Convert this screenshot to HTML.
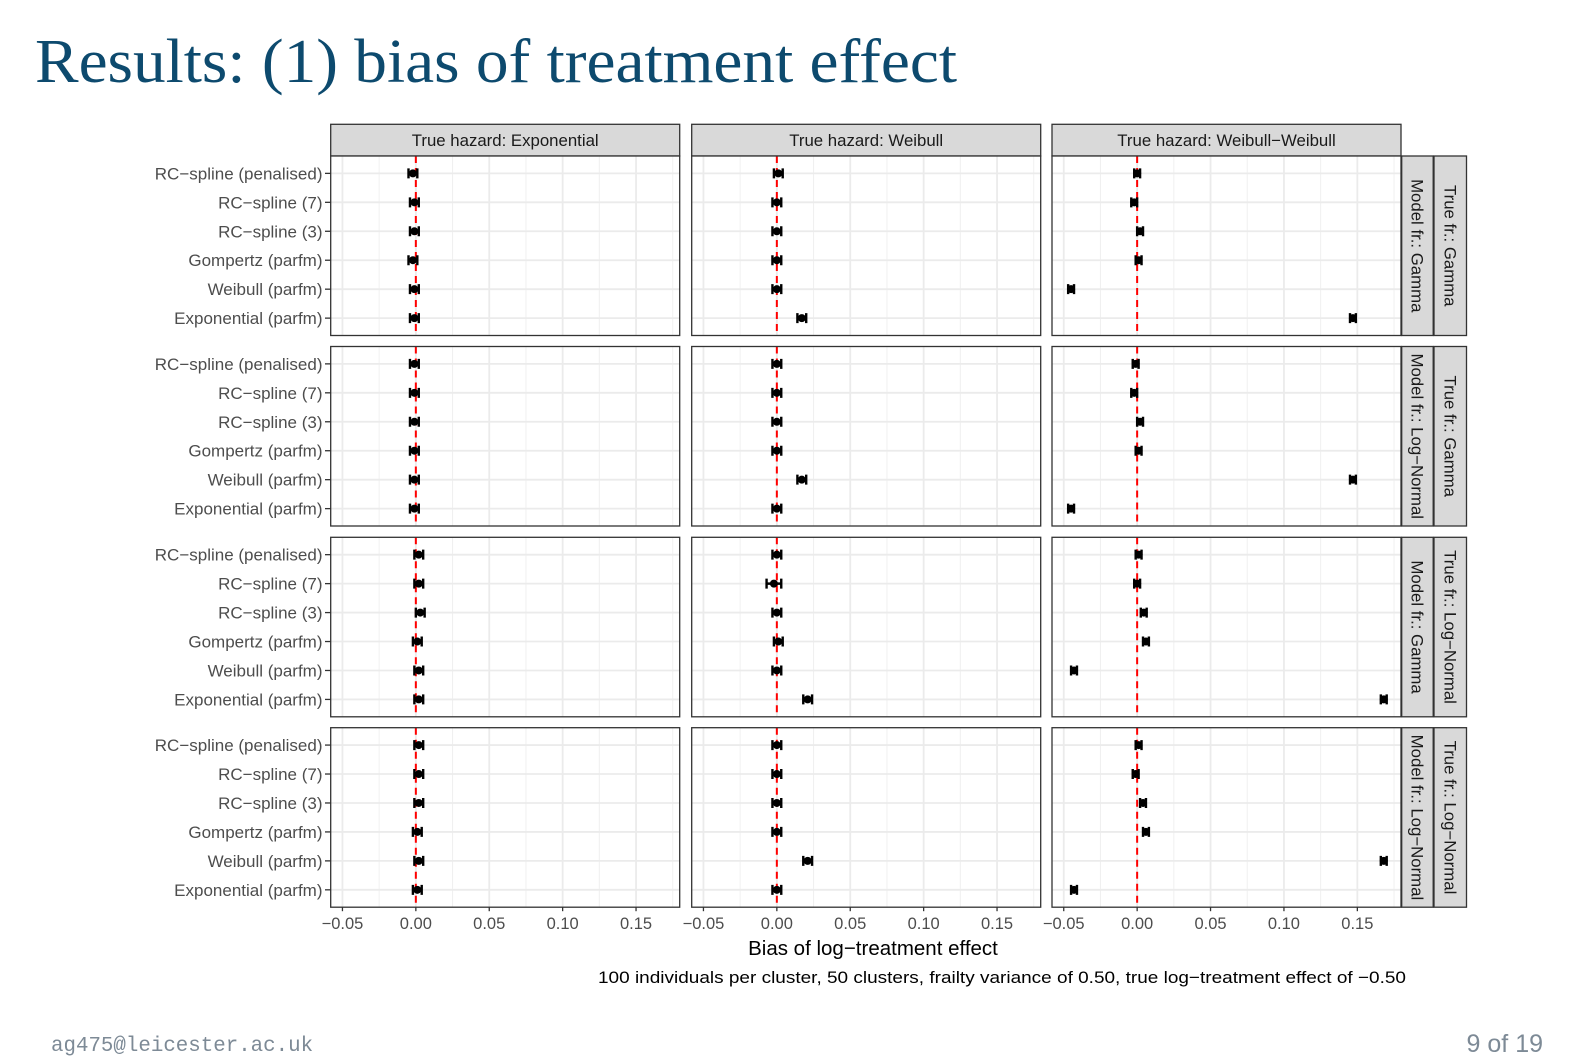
<!DOCTYPE html>
<html><head><meta charset="utf-8"><style>
body{margin:0;background:#fff;}
svg{display:block}
</style></head><body>
<svg id="chart" width="1594" height="1063" xmlns="http://www.w3.org/2000/svg">
<text x="35" y="82" font-family="Liberation Serif, serif" font-size="62" fill="#0d4a6e" textLength="922" lengthAdjust="spacingAndGlyphs">Results: (1) bias of treatment effect</text>
<text x="873" y="955" text-anchor="middle" font-family="Liberation Sans, sans-serif" font-size="20.5" fill="#000">Bias of log−treatment effect</text>
<text x="598" y="983" font-family="Liberation Sans, sans-serif" font-size="17" fill="#000" textLength="808" lengthAdjust="spacingAndGlyphs">100 individuals per cluster, 50 clusters, frailty variance of 0.50, true log−treatment effect of −0.50</text>
<text x="51" y="1051" font-family="Liberation Mono, monospace" font-size="20.8" fill="#7d8a96">ag475@leicester.ac.uk</text>
<text x="1543" y="1052" text-anchor="end" font-family="Liberation Sans, sans-serif" font-size="25" fill="#7d8a96">9 of 19</text>
</svg>
<script>
const models = ["RC−spline (penalised)","RC−spline (7)","RC−spline (3)","Gompertz (parfm)","Weibull (parfm)","Exponential (parfm)"];
const hazards = ["True hazard: Exponential","True hazard: Weibull","True hazard: Weibull−Weibull"];
const modelFrailty = ["Model fr.: Gamma","Model fr.: Log−Normal","Model fr.: Gamma","Model fr.: Log−Normal"];
const trueFrailty = ["True fr.: Gamma","True fr.: Gamma","True fr.: Log−Normal","True fr.: Log−Normal"];
const xTicks = [-0.05,0,0.05,0.10,0.15];
const xTickLabels = ["−0.05","0.00","0.05","0.10","0.15"];
const biasR1 = [[-0.002,-0.001,-0.001,-0.002,-0.001,-0.001],[0.001,0.000,0.000,0.000,0.000,0.017],[0.000,-0.002,0.002,0.001,-0.045,0.147]];
const biasR2 = [[-0.001,-0.001,-0.001,-0.001,-0.001,-0.001],[0.000,0.000,0.000,0.000,0.017,0.000],[-0.001,-0.002,0.002,0.001,0.147,-0.045]];
const biasR3 = [[0.002,0.002,0.003,0.001,0.002,0.002],[0.000,-0.002,0.000,0.001,0.000,0.021],[0.001,0.000,0.0045,0.006,-0.043,0.168]];
const biasR4 = [[0.002,0.002,0.002,0.001,0.002,0.001],[0.000,0.000,0.000,0.000,0.021,0.000],[0.001,-0.001,0.004,0.006,0.168,-0.043]];
const bias = [biasR1,biasR2,biasR3,biasR4];
const halfWidth = [0.003,0.003,0.003,0.003];
const wideRC7 = [0.003,0.003,0.005,0.003];

const NS="http://www.w3.org/2000/svg";
const svg=document.getElementById('chart');
function el(tag,attrs,parent){const e=document.createElementNS(NS,tag);for(const k in attrs)e.setAttribute(k,attrs[k]);(parent||svg).appendChild(e);return e;}
const colLeft=[330.7,691.7,1052];const pw=349;
const rowTop=[156,346.5,537.3,727.7];const ph=179.5;
const xmin=-0.058,scale=1468;
function xPos(c,v){return colLeft[c]+(v-xmin)*scale;}
function yPos(r,i){return rowTop[r]+ph*(0.6+i)/6.2;}
const F="Liberation Sans, sans-serif";

for(let c=0;c<3;c++){
  const s=el('rect',{x:colLeft[c],y:124.3,width:pw,height:31.7,fill:'#d9d9d9',stroke:'#333','stroke-width':1.3});
  
  
  const t=el('text',{x:colLeft[c]+pw/2,y:146,'text-anchor':'middle','font-family':F,'font-size':16.8,fill:'#1a1a1a'});
  t.textContent=hazards[c];
  
  
}
for(let r=0;r<4;r++){
  const s1=el('rect',{x:1401.7,y:rowTop[r],width:31.5,height:ph,fill:'#d9d9d9',stroke:'#333','stroke-width':1.3});
  
  
  const s2=el('rect',{x:1434,y:rowTop[r],width:32.5,height:ph,fill:'#d9d9d9',stroke:'#333','stroke-width':1.3});
  
  
  const cy=rowTop[r]+ph/2;
  const t1=el('text',{x:0,y:0,'text-anchor':'middle','font-family':F,'font-size':16.8,fill:'#1a1a1a',transform:`translate(${1411.5},${cy}) rotate(90)`});
  t1.textContent=modelFrailty[r];
  
  
  const t2=el('text',{x:0,y:0,'text-anchor':'middle','font-family':F,'font-size':16.8,fill:'#1a1a1a',transform:`translate(${1444.5},${cy}) rotate(90)`});
  t2.textContent=trueFrailty[r];
  
  

  for(let i=0;i<models.length;i++){
    const y=yPos(r,i);
    const t=el('text',{x:322.5,y:y+6,'text-anchor':'end','font-family':F,'font-size':17,fill:'#4d4d4d'});
    t.textContent=models[i];
    
    
    el('line',{x1:325,x2:330.7,y1:y,y2:y,stroke:'#333','stroke-width':1.3});
  }
  for(let c=0;c<3;c++){
    const g=el('g',{});
    
    
    el('rect',{x:colLeft[c],y:rowTop[r],width:pw,height:ph,fill:'#fff'},g);
    for(let k=0;k<xTicks.length-1;k++){
      const x=xPos(c,(xTicks[k]+xTicks[k+1])/2);
      el('line',{x1:x,x2:x,y1:rowTop[r],y2:rowTop[r]+ph,stroke:'#f0f0f0','stroke-width':1},g);
    }
    const xr=xPos(c,0.175);
    el('line',{x1:xr,x2:xr,y1:rowTop[r],y2:rowTop[r]+ph,stroke:'#f0f0f0','stroke-width':1},g);
    for(const v of xTicks){const x=xPos(c,v);el('line',{x1:x,x2:x,y1:rowTop[r],y2:rowTop[r]+ph,stroke:'#ebebeb','stroke-width':1.8},g);}
    for(let i=0;i<6;i++){const y=yPos(r,i);el('line',{x1:colLeft[c],x2:colLeft[c]+pw,y1:y,y2:y,stroke:'#ebebeb','stroke-width':1.8},g);}
    const x0=xPos(c,0);
    el('line',{x1:x0,x2:x0,y1:rowTop[r],y2:rowTop[r]+ph,stroke:'#ff0000','stroke-width':2,'stroke-dasharray':'7,5'},g);
    for(let i=0;i<6;i++){
      const v=bias[r][c][i],y=yPos(r,i);
      const hw=(c===1&&i===1)?wideRC7[r]:(c===2?0.002:halfWidth[r]);
      const xa=xPos(c,v-hw),xb=xPos(c,v+hw);
      const eb=el('path',{d:`M${xa},${y}H${xb}M${xa},${y-5}V${y+5}M${xb},${y-5}V${y+5}`,stroke:'#000','stroke-width':2.4,fill:'none'},g);
      
      
      const p=el('circle',{cx:xPos(c,v),cy:y,r:4,fill:'#000'},g);
      
      
    }
    el('rect',{x:colLeft[c],y:rowTop[r],width:pw,height:ph,fill:'none',stroke:'#333','stroke-width':1.3},g);
  }
}
for(let c=0;c<3;c++){
  const yb=rowTop[3]+ph;
  for(let k=0;k<xTicks.length;k++){
    const x=xPos(c,xTicks[k]);
    el('line',{x1:x,x2:x,y1:yb,y2:yb+4,stroke:'#333','stroke-width':1.3});
    const t=el('text',{x:x,y:929,'text-anchor':'middle','font-family':F,'font-size':16.5,fill:'#4d4d4d'});
    t.textContent=xTickLabels[k];
    
    
  }
}
</script>
</body></html>
